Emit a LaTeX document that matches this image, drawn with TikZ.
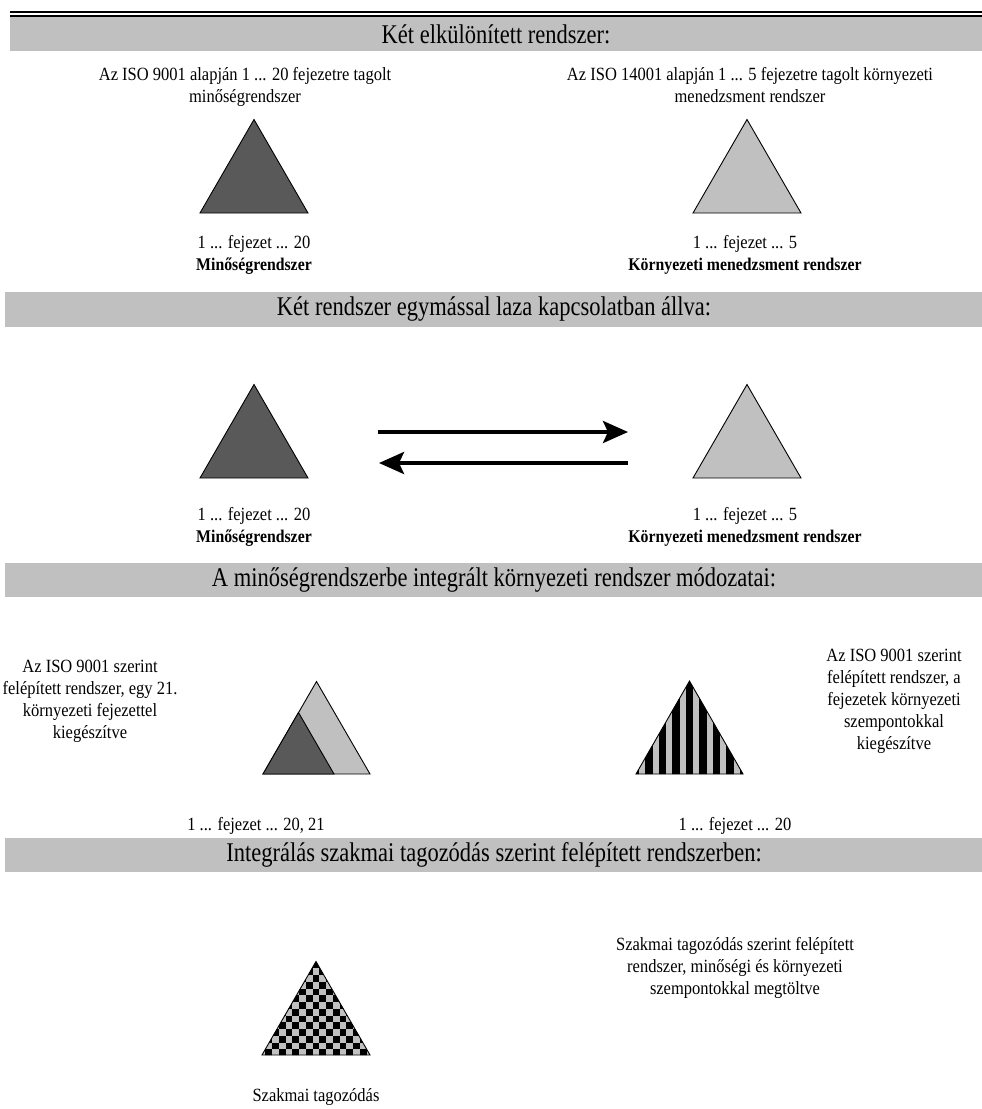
\documentclass[tikz,border=0pt]{standalone}
\usepackage{fontspec}
\usepackage{graphicx}
\setmainfont{Liberation Serif}
\usetikzlibrary{arrows.meta}
\definecolor{bandgray}{RGB}{192,192,192}
\definecolor{darktri}{RGB}{89,89,89}
\definecolor{lighttri}{RGB}{192,192,192}

% centred lines, stretched upwards a little
\newcommand{\tallhead}[1]{\scalebox{1}[1.2]{#1}}
\newcommand{\tallblock}[1]{\scalebox{1}[1.13]{\begin{tabular}{@{}c@{}}#1\end{tabular}}}

\begin{document}
\begin{tikzpicture}[x=1pt,y=-1pt,
  band/.style={fill=bandgray, draw=none},
  bandtext/.style={font=\fontsize{22.5}{26}\selectfont, inner sep=0},
  body/.style={font=\fontsize{16.5}{19.47}\selectfont, inner sep=0},
  bodybold/.style={font=\fontsize{15.8}{19.47}\selectfont\bfseries, inner sep=0},
  tri/.style={draw=black, line width=0.9pt, line join=miter},
  relarrow/.style={line width=4pt, -{Stealth[length=25pt,width=22pt,inset=5pt]}}
]
\useasboundingbox (0,0) rectangle (982,1109);

% double rule at the top
\fill[black] (10,11) rectangle (982,13.2);
\fill[black] (10,14.8) rectangle (982,16.6);

% ---------- section 1 ----------
\fill[band] (10,16.6) rectangle (982,51);
\node[bandtext] (h1) at (496,34) {\tallhead{Két elkülönített rendszer:}};

\node[body] (t1l) at (245,87) {\tallblock{Az ISO 9001 alapján 1 ... 20 fejezetre tagolt\\minőségrendszer}};
\node[body] (t1r) at (750,87) {\tallblock{Az ISO 14001 alapján 1 ... 5 fejezetre tagolt környezeti\\menedzsment rendszer}};

\draw[tri, fill=darktri] (200,213) -- (308,213) -- (254,119.5) -- cycle;
\draw[tri, fill=lighttri] (693,213) -- (801,213) -- (747,119.5) -- cycle;

\node[body] (c1l) at (254,244) {\tallblock{1 ... fejezet ... 20}};
\node[bodybold] (n1l) at (254,266) {\tallblock{Minőségrendszer}};
\node[body] (c1r) at (745,244) {\tallblock{1 ... fejezet ... 5}};
\node[bodybold] (n1r) at (745,266) {\tallblock{Környezeti menedzsment rendszer}};

% ---------- section 2 ----------
\fill[band] (5,292) rectangle (982,327);
\node[bandtext] (h2) at (494,309.5) {\tallhead{Két rendszer egymással laza kapcsolatban állva:}};

\draw[tri, fill=darktri] (200,478) -- (308,478) -- (254,384.5) -- cycle;
\draw[tri, fill=lighttri] (693,478) -- (801,478) -- (747,384.5) -- cycle;

\coordinate (ra) at (378,432);
\coordinate (rb) at (628,432);
\coordinate (la) at (628,463);
\coordinate (lb) at (379,463);
\draw[relarrow] (ra) -- (rb);
\draw[relarrow] (la) -- (lb);

\node[body] (c2l) at (254,516) {\tallblock{1 ... fejezet ... 20}};
\node[bodybold] (n2l) at (254,538) {\tallblock{Minőségrendszer}};
\node[body] (c2r) at (745,516) {\tallblock{1 ... fejezet ... 5}};
\node[bodybold] (n2r) at (745,538) {\tallblock{Környezeti menedzsment rendszer}};

% ---------- section 3 ----------
\fill[band] (5,563) rectangle (982,597);
\node[bandtext] (h3) at (494,580) {\tallhead{A minőségrendszerbe integrált környezeti rendszer módozatai:}};

\node[body] (t3l) at (90,701) {\tallblock{Az ISO 9001 szerint\\felépített rendszer, egy 21.\\környezeti fejezettel\\kiegészítve}};
\node[body] (t3r) at (894,701) {\tallblock{Az ISO 9001 szerint\\felépített rendszer, a\\fejezetek környezeti\\szempontokkal\\kiegészítve}};

% quality triangle with an added environmental chapter
\draw[tri, fill=lighttri] (263,774) -- (370,774) -- (316.5,681.5) -- cycle;
\draw[tri, fill=darktri] (263,774) -- (334,774) -- (298.5,712.5) -- cycle;

% striped triangle
\begin{scope}
  \clip (636,774) -- (743,774) -- (689.5,681) -- cycle;
  \fill[lighttri] (630,675) rectangle (750,780);
  \foreach \i in {-8,...,8} {
    \fill[black] ({689.5+\i*13.5-3.6},675) rectangle ({689.5+\i*13.5+3.6},780);
  }
\end{scope}
\draw[tri] (636,774) -- (743,774) -- (689.5,681) -- cycle;

\node[body] (c3l) at (256,826) {\tallblock{1 ... fejezet ... 20, 21}};
\node[body] (c3r) at (735,826) {\tallblock{1 ... fejezet ... 20}};

% ---------- section 4 ----------
\fill[band] (5,838) rectangle (982,872);
\node[bandtext] (h4) at (494,855) {\tallhead{Integrálás szakmai tagozódás szerint felépített rendszerben:}};

% checkered triangle
\begin{scope}
  \clip (262,1055) -- (370,1055) -- (316,961.5) -- cycle;
  \fill[lighttri] (255,955) rectangle (375,1060);
  \foreach \i in {0,...,17} {
    \foreach \j in {0,...,15} {
      \pgfmathtruncatemacro{\cellpar}{mod(\i+\j,2)}
      \ifnum\cellpar=0
        \fill[black] ({258.6+\i*6.75},{961.5+\j*6.75}) rectangle ++(6.75,6.75);
      \fi
    }
  }
\end{scope}
\draw[tri] (262,1055) -- (370,1055) -- (316,961.5) -- cycle;

\node[body] (t4r) at (735,968) {\tallblock{Szakmai tagozódás szerint felépített\\rendszer, minőségi és környezeti\\szempontokkal megtöltve}};
\node[body] (c4) at (316,1097) {\tallblock{Szakmai tagozódás}};

\end{tikzpicture}
\end{document}
